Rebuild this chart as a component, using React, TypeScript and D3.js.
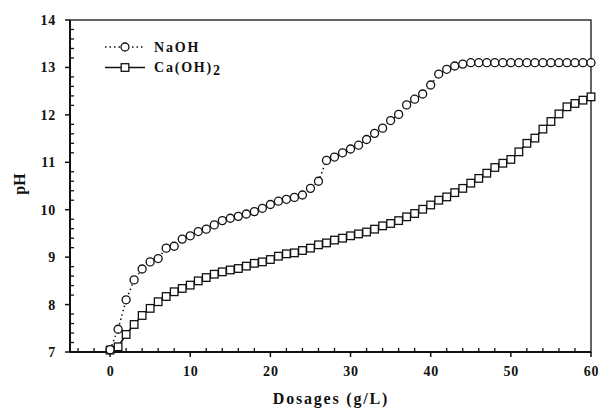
import { useEffect, useRef } from "react";
import * as d3 from "d3";

// dosage (g/L) for both series
const dosages = d3.range(0, 61);

// pH readings, NaOH
const naohPH = [
  7.05, 7.48, 8.1, 8.52, 8.75, 8.9, 8.97, 9.19, 9.23, 9.38,
  9.45, 9.54, 9.59, 9.68, 9.77, 9.82, 9.86, 9.91, 9.96, 10.03,
  10.11, 10.18, 10.22, 10.26, 10.31, 10.45, 10.6, 11.04, 11.11, 11.2,
  11.28, 11.36, 11.48, 11.61, 11.72, 11.88, 12.01, 12.21, 12.33, 12.44,
  12.63, 12.86, 12.96, 13.03, 13.07, 13.1, 13.1, 13.1, 13.1, 13.1,
  13.1, 13.1, 13.1, 13.1, 13.1, 13.1, 13.1, 13.1, 13.1, 13.1, 13.1,
];

// pH readings, Ca(OH)2
const caohPH = [
  7.04, 7.11, 7.37, 7.58, 7.77, 7.92, 8.06, 8.17, 8.27, 8.34,
  8.41, 8.5, 8.57, 8.64, 8.69, 8.73, 8.76, 8.81, 8.87, 8.9,
  8.95, 9.02, 9.07, 9.09, 9.14, 9.19, 9.26, 9.3, 9.36, 9.4,
  9.45, 9.49, 9.53, 9.59, 9.66, 9.71, 9.77, 9.85, 9.92, 10.01,
  10.1, 10.2, 10.27, 10.36, 10.45, 10.56, 10.66, 10.77, 10.89, 10.98,
  11.06, 11.22, 11.4, 11.51, 11.7, 11.86, 12.02, 12.17, 12.24, 12.31, 12.38,
];

const xTicks = [0, 10, 20, 30, 40, 50, 60];
const yTicks = [7, 8, 9, 10, 11, 12, 13, 14];

const W = 598;
const H = 408;
const FONT = "'Liberation Serif', 'Times New Roman', serif";

const App = () => {
  const svgRef = useRef<SVGSVGElement>(null);

  useEffect(() => {
    const svg = d3.select(svgRef.current);
    svg.selectAll("*").remove();
    const margin = { top: 20, right: 7, bottom: 56, left: 70 };

    const x = d3.scaleLinear().domain([-5, 60]).range([margin.left, W - margin.right]);
    const y = d3.scaleLinear().domain([7, 14]).range([H - margin.bottom, margin.top]);

    const axisColor = "#111";

    // frame
    svg
      .append("rect")
      .attr("x", x(-5))
      .attr("y", y(14))
      .attr("width", x(60) - x(-5))
      .attr("height", y(7) - y(14))
      .attr("fill", "none")
      .attr("stroke", axisColor)
      .attr("stroke-width", 1.3);
    svg
      .append("line")
      .attr("x1", x(-5)).attr("x2", x(-5))
      .attr("y1", y(14)).attr("y2", y(7))
      .attr("stroke", axisColor).attr("stroke-width", 2);
    svg
      .append("line")
      .attr("x1", x(-5)).attr("x2", x(60))
      .attr("y1", y(7)).attr("y2", y(7))
      .attr("stroke", axisColor).attr("stroke-width", 2);

    // x ticks: major outward, minor inward
    const xMinor = d3.range(-4, 60, 2).filter((v) => v % 10 !== 0);
    svg
      .append("g")
      .selectAll("line.minor")
      .data(xMinor)
      .join("line")
      .attr("x1", (d) => x(d)).attr("x2", (d) => x(d))
      .attr("y1", y(7)).attr("y2", y(7) - 4)
      .attr("stroke", axisColor).attr("stroke-width", 1.3);
    svg
      .append("g")
      .selectAll("line.major")
      .data(xTicks)
      .join("line")
      .attr("x1", (d) => x(d)).attr("x2", (d) => x(d))
      .attr("y1", y(7)).attr("y2", y(7) + 5)
      .attr("stroke", axisColor).attr("stroke-width", 1.5);
    svg
      .append("g")
      .selectAll("text")
      .data(xTicks)
      .join("text")
      .attr("x", (d) => x(d) + 0.5)
      .attr("y", y(7) + 24)
      .attr("text-anchor", "middle")
      .attr("font-family", FONT)
      .attr("font-weight", "bold")
      .attr("font-size", 14)
      .attr("letter-spacing", 0.8)
      .attr("fill", axisColor)
      .text((d) => d);

    // y ticks
    const yMinor = d3.range(7.2, 14, 0.2).filter((v) => Math.abs(v - Math.round(v)) > 0.01);
    svg
      .append("g")
      .selectAll("line")
      .data(yMinor)
      .join("line")
      .attr("x1", x(-5)).attr("x2", x(-5) + 4)
      .attr("y1", (d) => y(d)).attr("y2", (d) => y(d))
      .attr("stroke", axisColor).attr("stroke-width", 1.3);
    svg
      .append("g")
      .selectAll("line")
      .data(yTicks)
      .join("line")
      .attr("x1", x(-5) - 5).attr("x2", x(-5))
      .attr("y1", (d) => y(d)).attr("y2", (d) => y(d))
      .attr("stroke", axisColor).attr("stroke-width", 1.5);
    svg
      .append("g")
      .selectAll("text")
      .data(yTicks)
      .join("text")
      .attr("x", x(-5) - 14)
      .attr("y", (d) => y(d) + 5)
      .attr("text-anchor", "end")
      .attr("font-family", FONT)
      .attr("font-weight", "bold")
      .attr("font-size", 14)
      .attr("letter-spacing", 0.8)
      .attr("fill", axisColor)
      .text((d) => d);

    // axis titles
    svg
      .append("text")
      .attr("x", 331)
      .attr("y", 404)
      .attr("text-anchor", "middle")
      .attr("font-family", FONT)
      .attr("font-weight", "bold")
      .attr("font-size", 16)
      .attr("letter-spacing", 1.8)
      .attr("fill", axisColor)
      .text("Dosages (g/L)");
    svg
      .append("text")
      .attr("transform", "translate(25,184) rotate(-90)")
      .attr("text-anchor", "middle")
      .attr("font-family", FONT)
      .attr("font-weight", "bold")
      .attr("font-size", 16)
      .attr("fill", axisColor)
      .text("pH");

    const line = d3
      .line<number>()
      .x((_, i) => x(dosages[i]))
      .y((d) => y(d));

    // NaOH: dotted line + open circles
    svg
      .append("path")
      .datum(naohPH)
      .attr("d", line)
      .attr("fill", "none")
      .attr("stroke", axisColor)
      .attr("stroke-width", 1.5)
      .attr("stroke-dasharray", "1.5,3");

    // Ca(OH)2: solid line + open squares
    svg
      .append("path")
      .datum(caohPH)
      .attr("d", line)
      .attr("fill", "none")
      .attr("stroke", axisColor)
      .attr("stroke-width", 1.6);

    svg
      .append("g")
      .selectAll("rect")
      .data(caohPH)
      .join("rect")
      .attr("x", (_, i) => x(dosages[i]) - 3.8)
      .attr("y", (d) => y(d) - 3.8)
      .attr("width", 7.6)
      .attr("height", 7.6)
      .attr("fill", "white")
      .attr("stroke", axisColor)
      .attr("stroke-width", 1.3);

    svg
      .append("g")
      .selectAll("circle")
      .data(naohPH)
      .join("circle")
      .attr("cx", (_, i) => x(dosages[i]))
      .attr("cy", (d) => y(d))
      .attr("r", 4)
      .attr("fill", "white")
      .attr("stroke", axisColor)
      .attr("stroke-width", 1.3);

    // legend
    const lg = svg.append("g");
    lg.append("line")
      .attr("x1", 105).attr("x2", 143).attr("y1", 47).attr("y2", 47)
      .attr("stroke", axisColor).attr("stroke-width", 1.5)
      .attr("stroke-dasharray", "1.5,3");
    lg.append("circle")
      .attr("cx", 125).attr("cy", 47).attr("r", 4)
      .attr("fill", "white").attr("stroke", axisColor).attr("stroke-width", 1.3);
    lg.append("text")
      .attr("x", 154).attr("y", 52)
      .attr("font-family", FONT).attr("font-weight", "bold")
      .attr("font-size", 14).attr("letter-spacing", 1.8)
      .attr("fill", axisColor)
      .text("NaOH");
    lg.append("line")
      .attr("x1", 105).attr("x2", 145).attr("y1", 67.5).attr("y2", 67.5)
      .attr("stroke", axisColor).attr("stroke-width", 1.6);
    lg.append("rect")
      .attr("x", 125 - 3.8).attr("y", 67.5 - 3.8).attr("width", 7.6).attr("height", 7.6)
      .attr("fill", "white").attr("stroke", axisColor).attr("stroke-width", 1.3);
    const caText = lg.append("text")
      .attr("x", 154).attr("y", 72)
      .attr("font-family", FONT).attr("font-weight", "bold")
      .attr("font-size", 14).attr("letter-spacing", 1.8)
      .attr("fill", axisColor);
    caText.append("tspan").text("Ca(OH)");
    caText.append("tspan").attr("dy", 3).text("2");
  }, []);

  return (
    <svg
      ref={svgRef}
      width={W}
      height={H}
      style={{ position: "absolute", left: 0, top: 0, background: "white" }}
    ></svg>
  );
};

export default App;
